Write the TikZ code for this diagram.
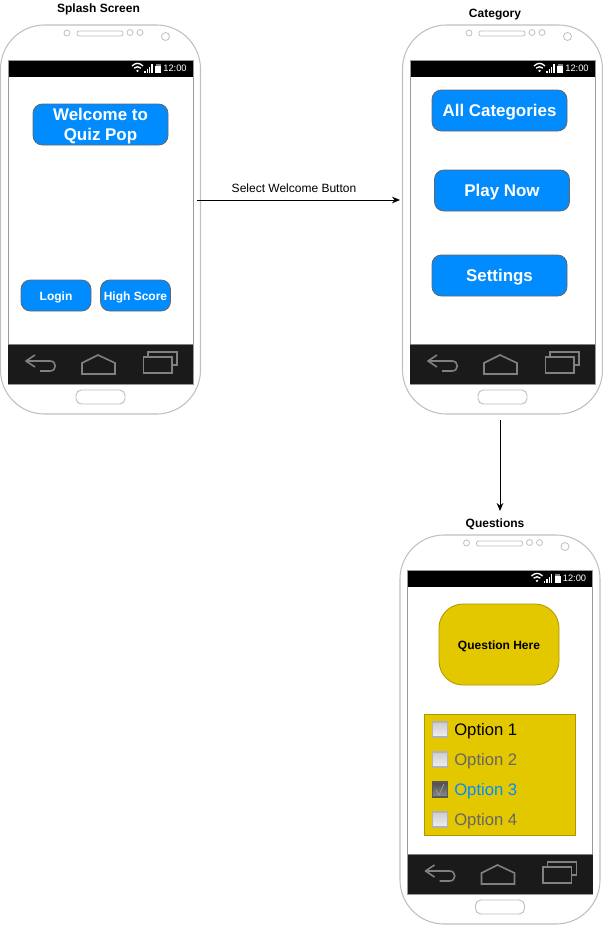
\documentclass[tikz,border=0pt]{standalone}
\usepackage{fontspec}
\setmainfont{Liberation Sans}
\usetikzlibrary{arrows.meta}
\definecolor{btnblue}{HTML}{008CFF}
\definecolor{btnedge}{HTML}{666666}
\definecolor{qyellow}{HTML}{E3C800}
\definecolor{qedge}{HTML}{B09500}
\definecolor{shell}{HTML}{C0C0C0}
\definecolor{navbar}{HTML}{1A1A1A}
\definecolor{navicon}{HTML}{808080}
\definecolor{optgrey}{HTML}{666666}
\newcommand\droptext[1]{\raisebox{-1.5pt}[\height][\depth]{#1}}
\tikzset{
  x=0.75pt,y=-0.75pt,
  phonebody/.style={draw=shell,line width=0.8pt,fill=white,rounded corners=33pt,minimum width=200*0.75pt,minimum height=389*0.75pt,inner sep=0pt},
  btn/.style={draw=btnedge,line width=0.6pt,fill=btnblue,rounded corners=7pt,text=white,inner sep=0pt,align=center},
  bigbtn/.style={btn,minimum width=135*0.75pt,minimum height=41*0.75pt,font=\bfseries\fontsize{12.7}{15}\selectfont},
  smallbtn/.style={btn,minimum width=70*0.75pt,minimum height=31*0.75pt,font=\bfseries\fontsize{9}{11}\selectfont},
  title/.style={inner sep=0pt,font=\bfseries\fontsize{9}{11}\selectfont},
  flowlabel/.style={inner sep=0pt,font=\fontsize{9}{11}\selectfont},
  flow/.style={draw=black,line width=0.75pt,-{Stealth[length=6pt,width=5pt]}},
  optlabel/.style={anchor=west,inner sep=0pt,font=\fontsize{12.5}{15}\selectfont},
  cbox/.style={draw=black!30,line width=0.8pt,top color=black!20,bottom color=black!6,minimum size=15*0.75pt,inner sep=0pt},
  cboxon/.style={draw=black!65,line width=0.8pt,top color=black!70,bottom color=black!45,minimum size=15*0.75pt,inner sep=0pt},
  navline/.style={draw=navicon,line width=1.2pt},
  phonechrome/.pic={
    \draw[shell,line width=0.6pt] (67,9) circle (3);
    \draw[shell,line width=0.6pt,rounded corners=1.5pt] (77,7) rectangle (123,12);
    \draw[shell,line width=0.6pt] (130,8.5) circle (3) (140,8.5) circle (3) (165.5,12.5) circle (4);
    \draw[draw=black!40,fill=white,line width=0.6pt] (8,36) rectangle (193,360);
    \fill[black] (8.5,36.5) rectangle (192.5,52.5);
    \fill[navbar] (8,320) rectangle (193,360);
    \draw[black!50,line width=0.6pt] (8,320) -- (193,320);
    % wifi
    \draw[white,line width=1pt] (132,42) .. controls (135.5,38.5) and (139.5,38.5) .. (143,42);
    \draw[white,line width=1pt] (134.2,44.2) .. controls (136.5,42.2) and (138.5,42.2) .. (140.8,44.2);
    \fill[white] (137.5,46.8) circle (1.3);
    % signal
    \fill[white] (144,47) rectangle (145.5,48.5);
    \fill[white] (146.5,45) rectangle (148,48.5);
    \fill[white] (149,42.5) rectangle (150.3,48.5);
    \fill[white] (151.3,40) rectangle (152.6,48.5);
    % battery
    \fill[white!50!black] (155.5,39.5) rectangle (160.5,42);
    \fill[white] (155,42) rectangle (161,48.5);
    \node[inner sep=0pt,text=white,font=\fontsize{7}{9}\selectfont] (clock) at (175,44.5) {12:00};
    % back
    \draw[navline,line join=round] (35,331) -- (26,337) -- (35,343);
    \draw[navline] (26,337) -- (50,337) .. controls (57,337) and (57,347) .. (50,347) -- (40,347);
    % home
    \draw[navline] (82,350) -- (82,339) -- (98,331) -- (115,339) -- (115,350) -- cycle;
    % recents
    \draw[navline] (143.5,333) rectangle (172,349);
    \draw[navline] (148,333) -- (148,328) -- (177,328) -- (177,341) -- (172,341);
    % home button
    \draw[shell,line width=0.7pt,fill=white,rounded corners=4pt] (76,366) rectangle (125,380);
  }
}
\begin{document}
\begin{tikzpicture}
\useasboundingbox (0,0) rectangle (603,925);
\fill[white] (0,0) rectangle (603,925);

\node[title] (t1) at (98.5,9.5) {Splash Screen};
\node[title] (t2) at (495,14.5) {Category};
\node[title] (t3) at (495,524) {Questions};

\node[phonebody] (splash) at (100.5,219.5) {};
\pic (pa) at (0,24) {phonechrome};
\node[phonebody] (category) at (502.5,219.5) {};
\pic (pb) at (402,24) {phonechrome};
\node[phonebody] (questions) at (500,729.5) {};
\pic (pc) at (399.5,534) {phonechrome};

\node[bigbtn] (welcome) at (100.5,124.5) {\droptext{\begin{tabular}{@{}c@{}}Welcome to\\Quiz Pop\end{tabular}}};
\node[smallbtn] (login) at (56,295.5) {\droptext{Login}};
\node[smallbtn] (high) at (135.5,295.5) {\droptext{High Score}};

\node[bigbtn] (allcat) at (499.5,110.5) {\droptext{All Categories}};
\node[bigbtn] (play) at (502,190.5) {\droptext{Play Now}};
\node[bigbtn] (settings) at (499.5,275.5) {\droptext{Settings}};

\node[draw=qedge,line width=0.6pt,fill=qyellow,rounded corners=18pt,minimum width=120*0.75pt,minimum height=81*0.75pt,inner sep=0pt,font=\bfseries\fontsize{9}{11}\selectfont] (question) at (499,644.5) {\droptext{Question Here}};
\node[draw=qedge,line width=0.7pt,fill=qyellow,minimum width=151*0.75pt,minimum height=121*0.75pt,inner sep=0pt] (options) at (499.5,774.5) {};

\node[cbox] (c1) at (440,729.5) {};
\node[cbox] (c2) at (440,759.5) {};
\node[cboxon] (c3) at (440,789.5) {};
\node[cbox] (c4) at (440,819.5) {};
\draw[black!40!white,line width=0.6pt] (436,790) -- (439,795) -- (444,784);
\node[optlabel,text=black] (o1) at (454,731.5) {Option 1};
\node[optlabel,text=optgrey] (o2) at (454,761.5) {Option 2};
\node[optlabel,text=btnblue] (o3) at (454,791.5) {Option 3};
\node[optlabel,text=optgrey] (o4) at (454,821.5) {Option 4};

\coordinate (aStart) at (197,200);
\coordinate (aEnd) at (400,200);
\coordinate (bStart) at (500,420);
\coordinate (bEnd) at (500,511);
\draw[flow] (aStart) -- (aEnd);
\node[flowlabel] (sel) at (294,188.5) {Select Welcome Button};
\draw[flow] (bStart) -- (bEnd);
\end{tikzpicture}
\end{document}
